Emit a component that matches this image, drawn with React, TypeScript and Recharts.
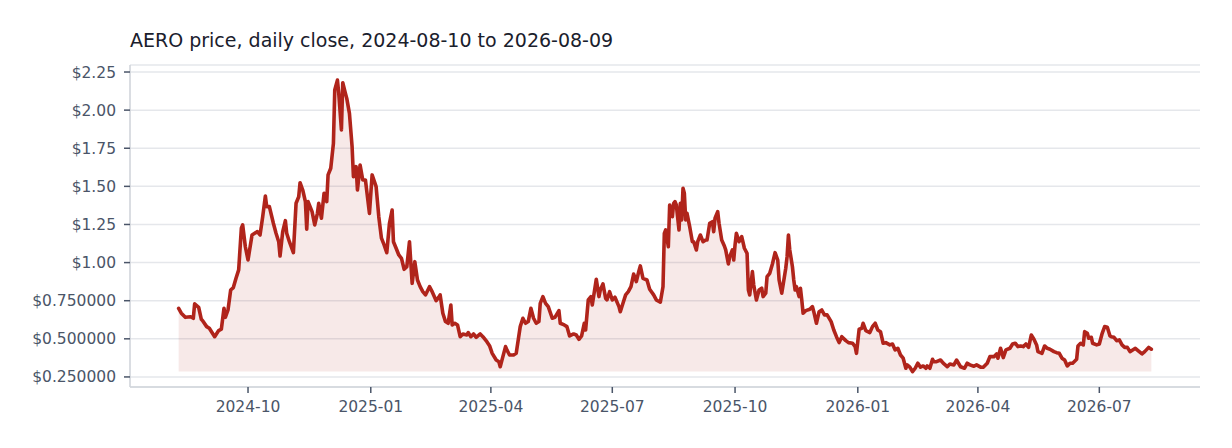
import React from "react";
import {
  AreaChart,
  Area,
  XAxis,
  YAxis,
  CartesianGrid,
} from "recharts";

// days since 2024-08-10
const days = [
  0, 2, 5, 9, 11, 12, 15, 17, 18, 21, 23, 25, 27, 30, 32, 34, 35, 37, 39, 41,
  43, 45, 47, 48, 50, 52, 55, 57, 59, 61, 63, 65, 66, 68, 71, 73, 75, 76, 78, 80,
  81, 83, 86, 88, 90, 91, 93, 95, 96, 97, 100, 102, 104, 105, 107, 109, 111, 112, 114, 116,
  117, 119, 120, 122, 123, 125, 126, 128, 130, 131, 133, 134, 136, 138, 140, 143, 145, 148, 150, 152,
  154, 156, 158, 160, 161, 163, 165, 167, 169, 171, 173, 175, 177, 179, 181, 183, 185, 188, 190, 193,
  195, 196, 198, 200, 202, 204, 205, 207, 209, 211, 213, 216, 217, 219, 221, 223, 226, 228, 231, 233,
  235, 238, 240, 241, 243, 245, 246, 248, 251, 253, 256, 258, 260, 262, 264, 266, 268, 270, 271, 273,
  275, 277, 280, 282, 285, 286, 289, 291, 293, 296, 298, 300, 302, 304, 305, 307, 309, 310, 313, 315,
  316, 318, 320, 321, 323, 325, 327, 330, 331, 333, 335, 337, 339, 341, 343, 345, 346, 348, 351, 353,
  356, 358, 361, 363, 364, 365, 367, 368, 370, 371, 372, 373, 375, 376, 377, 378, 379, 380, 381, 383,
  385, 386, 388, 389, 391, 393, 395, 396, 398, 400, 401, 402, 404, 405, 407, 409, 410, 412, 413, 415,
  416, 417, 418, 420, 422, 424, 426, 427, 428, 430, 431, 433, 435, 437, 438, 440, 441, 443, 445, 447,
  449, 450, 452, 453, 455, 456, 457, 458, 460, 461, 462, 463, 465, 466, 467, 468, 470, 473, 475, 476,
  478, 480, 482, 484, 486, 489, 491, 493, 495, 497, 500, 502, 505, 507, 508, 510, 512, 513, 515, 518,
  520, 522, 524, 526, 528, 530, 533, 535, 537, 539, 541, 543, 545, 546, 548, 550, 552, 554, 556, 558,
  560, 561, 563, 565, 566, 568, 571, 573, 576, 578, 581, 583, 586, 589, 591, 593, 596, 598, 601, 603,
  606, 608, 611, 613, 614, 616, 618, 620, 623, 625, 627, 629, 631, 633, 635, 637, 639, 641, 643, 644,
  647, 649, 651, 653, 656, 658, 660, 662, 664, 666, 668, 670, 673, 674, 676, 678, 679, 681, 682, 684,
  685, 688, 690, 692, 694, 696, 698, 699, 701, 703, 705, 707, 709, 711, 713, 715, 717, 719, 722, 724,
  727, 729,
];

const closes = [
  0.7, 0.668, 0.641, 0.645, 0.635, 0.729, 0.707, 0.628, 0.619, 0.58, 0.569, 0.541, 0.514, 0.554, 0.563, 0.7, 0.641, 0.689, 0.82, 0.836,
  0.897, 0.952, 1.225, 1.247, 1.104, 1.017, 1.181, 1.192, 1.203, 1.181, 1.301, 1.437, 1.367, 1.367, 1.258, 1.192, 1.137, 1.043, 1.203, 1.275,
  1.192, 1.137, 1.065, 1.389, 1.432, 1.524, 1.476, 1.4, 1.219, 1.4, 1.334, 1.247, 1.323, 1.389, 1.291, 1.455, 1.4, 1.575, 1.619, 1.782,
  2.132, 2.197, 2.11, 1.87, 2.18, 2.11, 2.077, 1.979, 1.76, 1.563, 1.629, 1.476, 1.64, 1.542, 1.542, 1.323, 1.575, 1.498, 1.301, 1.16,
  1.116, 1.065, 1.258, 1.345, 1.137, 1.094, 1.05, 1.028, 0.956, 0.973, 1.137, 0.864, 1.006, 0.886, 0.842, 0.809, 0.788, 0.842, 0.809, 0.75,
  0.773, 0.788, 0.668, 0.613, 0.602, 0.722, 0.591, 0.602, 0.591, 0.514, 0.532, 0.525, 0.541, 0.514, 0.532, 0.51, 0.532, 0.514, 0.481, 0.455,
  0.405, 0.361, 0.35, 0.317, 0.383, 0.449, 0.427, 0.394, 0.394, 0.405, 0.58, 0.635, 0.602, 0.613, 0.7, 0.635, 0.602, 0.613, 0.733, 0.777,
  0.733, 0.711, 0.635, 0.641, 0.685, 0.602, 0.591, 0.58, 0.519, 0.532, 0.525, 0.497, 0.519, 0.602, 0.558, 0.755, 0.777, 0.722, 0.891, 0.777,
  0.82, 0.86, 0.766, 0.755, 0.809, 0.755, 0.773, 0.711, 0.678, 0.733, 0.788, 0.809, 0.842, 0.925, 0.875, 0.947, 0.978, 0.897, 0.886, 0.825,
  0.788, 0.755, 0.74, 0.842, 1.192, 1.214, 1.104, 1.378, 1.301, 1.389, 1.4, 1.378, 1.214, 1.389, 1.28, 1.487, 1.455, 1.28, 1.323, 1.236,
  1.137, 1.137, 1.083, 1.137, 1.181, 1.137, 1.148, 1.148, 1.258, 1.268, 1.203, 1.291, 1.334, 1.258, 1.148, 1.109, 1.083, 0.991, 1.039, 1.083,
  1.017, 1.116, 1.192, 1.137, 1.17, 1.094, 1.061, 0.82, 0.788, 0.941, 0.853, 0.755, 0.82, 0.832, 0.777, 0.799, 0.908, 0.93, 0.991, 1.065,
  1.017, 0.886, 0.799, 0.853, 0.963, 1.039, 1.181, 1.083, 0.973, 0.886, 0.82, 0.842, 0.777, 0.832, 0.755, 0.668, 0.685, 0.694, 0.711, 0.678,
  0.602, 0.678, 0.689, 0.657, 0.657, 0.613, 0.558, 0.514, 0.475, 0.514, 0.488, 0.475, 0.471, 0.449, 0.405, 0.563, 0.569, 0.602, 0.554, 0.541,
  0.58, 0.602, 0.558, 0.547, 0.471, 0.475, 0.46, 0.466, 0.427, 0.438, 0.394, 0.373, 0.307, 0.329, 0.314, 0.285, 0.307, 0.34, 0.314, 0.322,
  0.307, 0.322, 0.307, 0.366, 0.35, 0.35, 0.361, 0.34, 0.317, 0.335, 0.329, 0.361, 0.317, 0.307, 0.34, 0.329, 0.32, 0.329, 0.314, 0.314,
  0.34, 0.383, 0.383, 0.401, 0.373, 0.438, 0.377, 0.427, 0.438, 0.466, 0.471, 0.449, 0.453, 0.449, 0.466, 0.444, 0.525, 0.497, 0.46, 0.416,
  0.405, 0.453, 0.438, 0.432, 0.416, 0.409, 0.405, 0.373, 0.361, 0.322, 0.34, 0.34, 0.366, 0.453, 0.471, 0.46, 0.547, 0.536, 0.504, 0.51,
  0.471, 0.46, 0.466, 0.532, 0.58, 0.576, 0.519, 0.514, 0.51, 0.488, 0.493, 0.46, 0.444, 0.444, 0.416, 0.427, 0.438, 0.423, 0.401, 0.416,
  0.444, 0.432,
];

const tickMonths = [
  "2024-10", "2025-01", "2025-04", "2025-07",
  "2025-10", "2026-01", "2026-04", "2026-07",
];

const priceTicks = [0.25, 0.5, 0.75, 1.0, 1.25, 1.5, 1.75, 2.0, 2.25];

const START = Date.UTC(2024, 7, 10);
const DAY = 86400000;

const monthToDay = (m: string) => {
  const [y, mo] = m.split("-").map(Number);
  return Math.round((Date.UTC(y, mo - 1, 1) - START) / DAY);
};

const xTicks = tickMonths.map(monthToDay);

const formatPrice = (v: number) =>
  v < 1 ? `$${v.toFixed(6)}` : `$${v.toFixed(2)}`;

export default function App() {
  const data = days.map((d, i) => ({ day: d, close: closes[i] }));
  const minClose = Math.min(...closes);

  return (
    <div
      style={{
        position: "relative",
        width: 1216,
        height: 430,
        fontFamily: "'DejaVu Sans', sans-serif",
      }}
    >
      <div
        style={{
          position: "absolute",
          left: 122,
          top: 21,
          fontSize: 19,
          color: "#1a202c",
          whiteSpace: "nowrap",
        }}
      >
        AERO price, daily close, 2024-08-10 to 2026-08-09
      </div>

      <AreaChart
        width={1216}
        height={430}
        data={data}
        margin={{ top: 57, right: 24, bottom: 21, left: 22 }}
      >
        <CartesianGrid
          vertical={false}
          stroke="#e5e7eb"
          strokeWidth={1.5}
        />

        <XAxis
          type="number"
          dataKey="day"
          domain={[-36.45, 765.45]}
          ticks={xTicks}
          tickFormatter={(v) => tickMonths[xTicks.indexOf(v)] ?? ""}
          height={30}
          tickSize={6}
          tickMargin={8}
          axisLine={{ stroke: "#d1d5db", strokeWidth: 1.6 }}
          tickLine={{ stroke: "#4a5568", strokeWidth: 1.5 }}
          tick={{ fill: "#4a5568", fontSize: 15.5 }}
          allowDataOverflow
        />

        <YAxis
          type="number"
          domain={[0.184, 2.296]}
          ticks={priceTicks}
          tickFormatter={formatPrice}
          width={100}
          tickSize={6}
          tickMargin={8}
          axisLine={{ stroke: "#d1d5db", strokeWidth: 1.6 }}
          tickLine={{ stroke: "#4a5568", strokeWidth: 1.5 }}
          tick={{ fill: "#4a5568", fontSize: 15.5 }}
          allowDataOverflow
        />

        <Area
          type="linear"
          dataKey="close"
          baseValue={minClose}
          stroke="#b0241b"
          strokeWidth={3.6}
          strokeLinejoin="round"
          strokeLinecap="round"
          fill="#b0241b"
          fillOpacity={0.1}
          dot={false}
          activeDot={false}
          isAnimationActive={false}
        />
      </AreaChart>
    </div>
  );
}
